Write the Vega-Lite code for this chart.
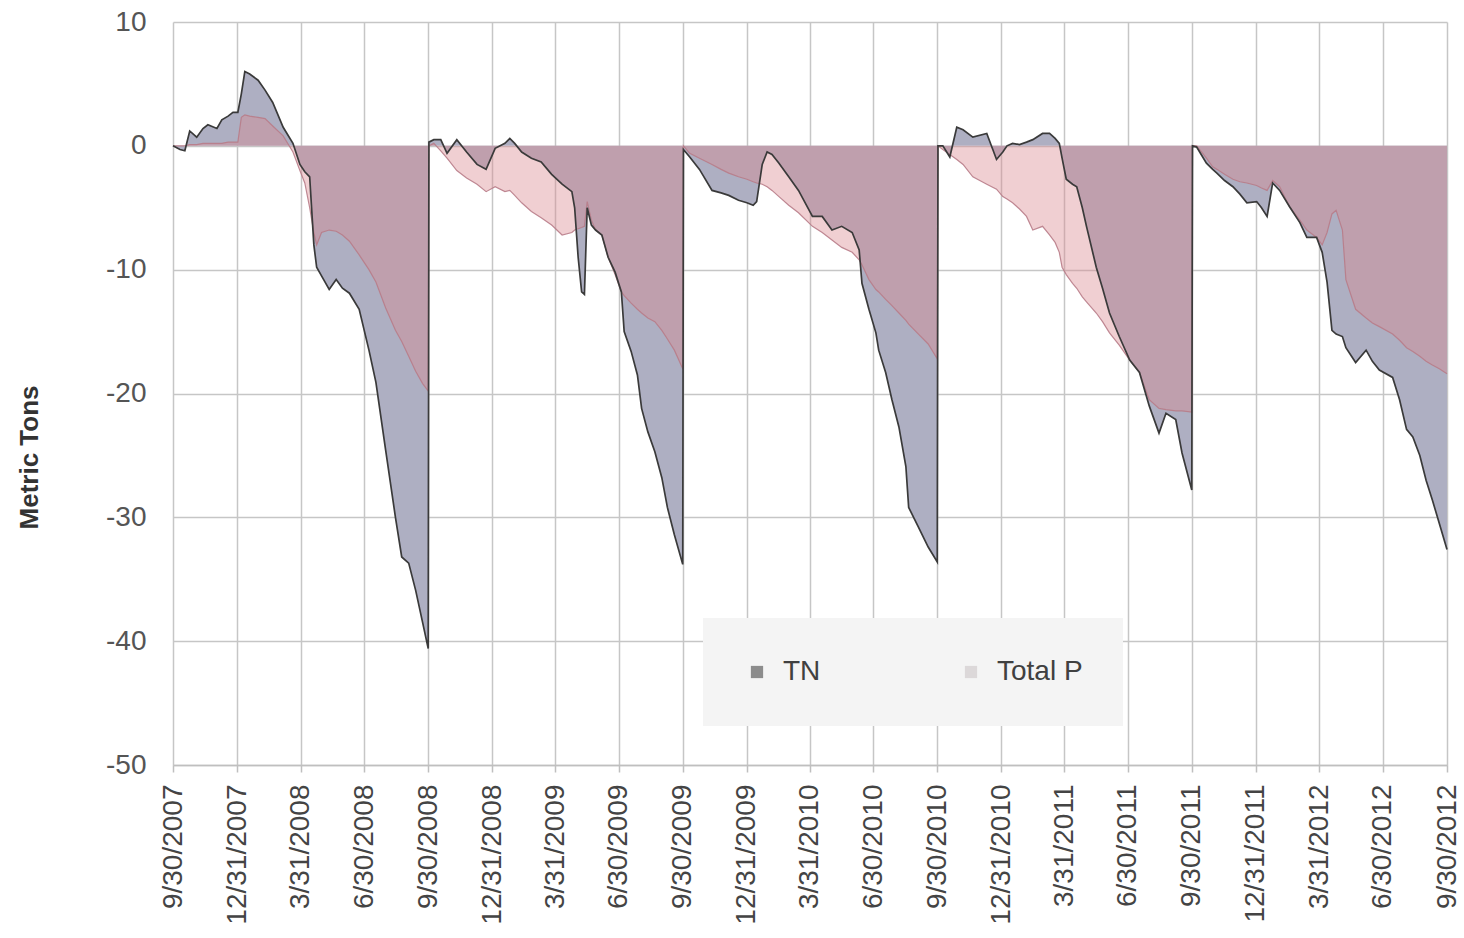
{
  "$schema": "https://vega.github.io/schema/vega-lite/v6.json",
  "width": 1274,
  "height": 743,
  "autosize": {"type": "none"},
  "padding": {"left": 173, "top": 22, "right": 17, "bottom": 173},
  "background": "white",
  "config": {"font": "Liberation Sans", "view": {"stroke": null}},
  "data": {
    "format": {"parse": {"date": "date:'%Y-%m-%d'"}},
    "values": [
      {"date": "2007-09-30", "TN": 0, "Total P": 0},
      {"date": "2007-10-10", "TN": -0.3, "Total P": 0},
      {"date": "2007-10-17", "TN": -0.4, "Total P": 0},
      {"date": "2007-10-24", "TN": 1.2, "Total P": 0.1},
      {"date": "2007-11-03", "TN": 0.7, "Total P": 0.1},
      {"date": "2007-11-12", "TN": 1.4, "Total P": 0.2},
      {"date": "2007-11-19", "TN": 1.7, "Total P": 0.2},
      {"date": "2007-12-02", "TN": 1.4, "Total P": 0.2},
      {"date": "2007-12-09", "TN": 2.1, "Total P": 0.2},
      {"date": "2007-12-18", "TN": 2.4, "Total P": 0.3},
      {"date": "2007-12-25", "TN": 2.7, "Total P": 0.3},
      {"date": "2008-01-01", "TN": 2.7, "Total P": 0.3},
      {"date": "2008-01-06", "TN": 4.2, "Total P": 2.3},
      {"date": "2008-01-11", "TN": 6.0, "Total P": 2.5},
      {"date": "2008-01-18", "TN": 5.8, "Total P": 2.4},
      {"date": "2008-01-30", "TN": 5.3, "Total P": 2.3},
      {"date": "2008-02-09", "TN": 4.5, "Total P": 2.2},
      {"date": "2008-02-20", "TN": 3.5, "Total P": 1.6},
      {"date": "2008-03-06", "TN": 1.5, "Total P": 0.8},
      {"date": "2008-03-20", "TN": 0.2, "Total P": -0.5},
      {"date": "2008-03-30", "TN": -1.5, "Total P": -2.0},
      {"date": "2008-04-06", "TN": -2.1, "Total P": -3.0},
      {"date": "2008-04-13", "TN": -2.5, "Total P": -5.0},
      {"date": "2008-04-19", "TN": -8.0, "Total P": -7.0},
      {"date": "2008-04-23", "TN": -9.8, "Total P": -8.0},
      {"date": "2008-04-30", "TN": -10.5, "Total P": -7.0},
      {"date": "2008-05-11", "TN": -11.6, "Total P": -6.8},
      {"date": "2008-05-21", "TN": -10.8, "Total P": -6.9},
      {"date": "2008-05-30", "TN": -11.5, "Total P": -7.2},
      {"date": "2008-06-09", "TN": -11.9, "Total P": -7.7},
      {"date": "2008-06-23", "TN": -13.2, "Total P": -8.8},
      {"date": "2008-07-07", "TN": -16.5, "Total P": -10.0},
      {"date": "2008-07-17", "TN": -19.1, "Total P": -11.0},
      {"date": "2008-07-31", "TN": -24.6, "Total P": -13.1},
      {"date": "2008-08-14", "TN": -30.0, "Total P": -14.9},
      {"date": "2008-08-23", "TN": -33.2, "Total P": -15.8},
      {"date": "2008-09-02", "TN": -33.7, "Total P": -17.0},
      {"date": "2008-09-12", "TN": -35.9, "Total P": -18.2},
      {"date": "2008-09-22", "TN": -38.5, "Total P": -19.2},
      {"date": "2008-09-30", "TN": -40.6, "Total P": -19.8},
      {"date": "2008-10-01", "TN": 0.3, "Total P": 0},
      {"date": "2008-10-08", "TN": 0.5, "Total P": 0.2},
      {"date": "2008-10-18", "TN": 0.5, "Total P": -0.4},
      {"date": "2008-10-27", "TN": -0.6, "Total P": -1.0},
      {"date": "2008-11-10", "TN": 0.5, "Total P": -2.0},
      {"date": "2008-11-24", "TN": -0.5, "Total P": -2.6},
      {"date": "2008-12-09", "TN": -1.5, "Total P": -3.1},
      {"date": "2008-12-22", "TN": -1.9, "Total P": -3.7},
      {"date": "2009-01-04", "TN": -0.2, "Total P": -3.3},
      {"date": "2009-01-18", "TN": 0.2, "Total P": -3.7},
      {"date": "2009-01-25", "TN": 0.6, "Total P": -3.6},
      {"date": "2009-02-01", "TN": 0.2, "Total P": -4.0},
      {"date": "2009-02-11", "TN": -0.5, "Total P": -4.6},
      {"date": "2009-02-25", "TN": -1.0, "Total P": -5.3},
      {"date": "2009-03-11", "TN": -1.3, "Total P": -5.8},
      {"date": "2009-03-26", "TN": -2.3, "Total P": -6.4},
      {"date": "2009-04-10", "TN": -3.1, "Total P": -7.2},
      {"date": "2009-04-24", "TN": -3.7, "Total P": -7.0},
      {"date": "2009-04-28", "TN": -5.0, "Total P": -6.8},
      {"date": "2009-05-03", "TN": -9.0, "Total P": -6.7},
      {"date": "2009-05-08", "TN": -11.8, "Total P": -6.6},
      {"date": "2009-05-12", "TN": -12.0, "Total P": -6.5},
      {"date": "2009-05-16", "TN": -5.0, "Total P": -4.5},
      {"date": "2009-05-22", "TN": -6.4, "Total P": -6.0},
      {"date": "2009-05-28", "TN": -6.8, "Total P": -6.8},
      {"date": "2009-06-06", "TN": -7.2, "Total P": -7.2},
      {"date": "2009-06-15", "TN": -9.0, "Total P": -9.0},
      {"date": "2009-06-25", "TN": -10.2, "Total P": -10.4},
      {"date": "2009-07-04", "TN": -11.8, "Total P": -11.8},
      {"date": "2009-07-08", "TN": -15.0, "Total P": -12.1},
      {"date": "2009-07-18", "TN": -16.6, "Total P": -12.7},
      {"date": "2009-07-27", "TN": -18.5, "Total P": -13.2},
      {"date": "2009-08-02", "TN": -21.2, "Total P": -13.5},
      {"date": "2009-08-11", "TN": -23.1, "Total P": -13.9},
      {"date": "2009-08-21", "TN": -24.7, "Total P": -14.2},
      {"date": "2009-08-31", "TN": -26.8, "Total P": -14.9},
      {"date": "2009-09-08", "TN": -29.2, "Total P": -15.6},
      {"date": "2009-09-18", "TN": -31.4, "Total P": -16.5},
      {"date": "2009-09-30", "TN": -33.8, "Total P": -18.0},
      {"date": "2009-10-01", "TN": -0.3, "Total P": 0},
      {"date": "2009-10-10", "TN": -0.9, "Total P": -0.6},
      {"date": "2009-10-24", "TN": -1.9, "Total P": -1.0},
      {"date": "2009-11-11", "TN": -3.6, "Total P": -1.5},
      {"date": "2009-11-24", "TN": -3.8, "Total P": -1.9},
      {"date": "2009-12-05", "TN": -4.0, "Total P": -2.2},
      {"date": "2009-12-19", "TN": -4.4, "Total P": -2.5},
      {"date": "2009-12-31", "TN": -4.6, "Total P": -2.7},
      {"date": "2010-01-09", "TN": -4.8, "Total P": -2.9},
      {"date": "2010-01-14", "TN": -4.5, "Total P": -3.0},
      {"date": "2010-01-22", "TN": -1.5, "Total P": -3.1},
      {"date": "2010-01-29", "TN": -0.5, "Total P": -3.3},
      {"date": "2010-02-05", "TN": -0.7, "Total P": -3.6},
      {"date": "2010-02-15", "TN": -1.4, "Total P": -4.1},
      {"date": "2010-03-01", "TN": -2.5, "Total P": -4.8},
      {"date": "2010-03-15", "TN": -3.6, "Total P": -5.4},
      {"date": "2010-04-04", "TN": -5.7, "Total P": -6.5},
      {"date": "2010-04-18", "TN": -5.7, "Total P": -7.0},
      {"date": "2010-05-02", "TN": -6.8, "Total P": -7.6},
      {"date": "2010-05-16", "TN": -6.5, "Total P": -8.2},
      {"date": "2010-05-31", "TN": -7.0, "Total P": -8.6},
      {"date": "2010-06-10", "TN": -8.4, "Total P": -9.2},
      {"date": "2010-06-14", "TN": -11.1, "Total P": -9.6},
      {"date": "2010-06-24", "TN": -13.2, "Total P": -10.8},
      {"date": "2010-07-04", "TN": -15.1, "Total P": -11.6},
      {"date": "2010-07-08", "TN": -16.5, "Total P": -11.8},
      {"date": "2010-07-18", "TN": -18.3, "Total P": -12.4},
      {"date": "2010-07-27", "TN": -20.5, "Total P": -12.9},
      {"date": "2010-08-06", "TN": -22.7, "Total P": -13.5},
      {"date": "2010-08-16", "TN": -25.9, "Total P": -14.1},
      {"date": "2010-08-20", "TN": -29.2, "Total P": -14.4},
      {"date": "2010-09-03", "TN": -30.8, "Total P": -15.2},
      {"date": "2010-09-17", "TN": -32.4, "Total P": -16.0},
      {"date": "2010-09-30", "TN": -33.6, "Total P": -17.2},
      {"date": "2010-10-01", "TN": 0, "Total P": 0},
      {"date": "2010-10-08", "TN": 0, "Total P": -0.3},
      {"date": "2010-10-18", "TN": -0.9, "Total P": -0.7},
      {"date": "2010-10-28", "TN": 1.5, "Total P": -1.1},
      {"date": "2010-11-06", "TN": 1.3, "Total P": -1.5},
      {"date": "2010-11-20", "TN": 0.7, "Total P": -2.5},
      {"date": "2010-12-10", "TN": 1.0, "Total P": -3.1},
      {"date": "2010-12-24", "TN": -1.1, "Total P": -3.5},
      {"date": "2011-01-02", "TN": -0.5, "Total P": -4.1},
      {"date": "2011-01-08", "TN": 0, "Total P": -4.3},
      {"date": "2011-01-16", "TN": 0.2, "Total P": -4.6},
      {"date": "2011-01-26", "TN": 0.1, "Total P": -5.1},
      {"date": "2011-02-05", "TN": 0.3, "Total P": -5.7},
      {"date": "2011-02-14", "TN": 0.5, "Total P": -6.8},
      {"date": "2011-02-28", "TN": 1.0, "Total P": -6.5},
      {"date": "2011-03-10", "TN": 1.0, "Total P": -7.2},
      {"date": "2011-03-18", "TN": 0.6, "Total P": -7.8},
      {"date": "2011-03-24", "TN": 0.2, "Total P": -8.6},
      {"date": "2011-03-28", "TN": -1.0, "Total P": -9.8},
      {"date": "2011-04-03", "TN": -2.7, "Total P": -10.4},
      {"date": "2011-04-12", "TN": -3.1, "Total P": -11.1},
      {"date": "2011-04-18", "TN": -3.3, "Total P": -11.5},
      {"date": "2011-04-26", "TN": -5.0, "Total P": -12.2},
      {"date": "2011-05-02", "TN": -6.5, "Total P": -12.6},
      {"date": "2011-05-16", "TN": -9.8, "Total P": -13.5},
      {"date": "2011-05-25", "TN": -11.5, "Total P": -14.2},
      {"date": "2011-06-04", "TN": -13.5, "Total P": -15.1},
      {"date": "2011-06-18", "TN": -15.4, "Total P": -16.1},
      {"date": "2011-07-03", "TN": -17.3, "Total P": -17.3},
      {"date": "2011-07-17", "TN": -18.3, "Total P": -18.3},
      {"date": "2011-07-31", "TN": -21.0, "Total P": -20.5},
      {"date": "2011-08-14", "TN": -23.2, "Total P": -21.2},
      {"date": "2011-08-24", "TN": -21.6, "Total P": -21.3},
      {"date": "2011-09-07", "TN": -22.1, "Total P": -21.4},
      {"date": "2011-09-16", "TN": -24.8, "Total P": -21.4},
      {"date": "2011-09-30", "TN": -27.8, "Total P": -21.5},
      {"date": "2011-10-01", "TN": 0, "Total P": 0},
      {"date": "2011-10-07", "TN": -0.1, "Total P": 0},
      {"date": "2011-10-21", "TN": -1.4, "Total P": -1.0},
      {"date": "2011-10-30", "TN": -1.9, "Total P": -1.7},
      {"date": "2011-11-05", "TN": -2.2, "Total P": -1.9},
      {"date": "2011-11-16", "TN": -2.8, "Total P": -2.3},
      {"date": "2011-11-28", "TN": -3.3, "Total P": -2.7},
      {"date": "2011-12-08", "TN": -3.9, "Total P": -2.9},
      {"date": "2011-12-18", "TN": -4.6, "Total P": -3.0},
      {"date": "2012-01-01", "TN": -4.5, "Total P": -3.2},
      {"date": "2012-01-08", "TN": -5.0, "Total P": -3.4},
      {"date": "2012-01-16", "TN": -5.7, "Total P": -3.6},
      {"date": "2012-01-24", "TN": -3.0, "Total P": -2.8},
      {"date": "2012-02-03", "TN": -3.6, "Total P": -3.3},
      {"date": "2012-02-17", "TN": -4.9, "Total P": -4.9},
      {"date": "2012-03-03", "TN": -6.2, "Total P": -6.0},
      {"date": "2012-03-13", "TN": -7.4, "Total P": -6.8},
      {"date": "2012-03-27", "TN": -7.4, "Total P": -7.4},
      {"date": "2012-04-04", "TN": -8.6, "Total P": -8.0},
      {"date": "2012-04-11", "TN": -11.0, "Total P": -7.0},
      {"date": "2012-04-18", "TN": -14.9, "Total P": -5.5},
      {"date": "2012-04-24", "TN": -15.2, "Total P": -5.2},
      {"date": "2012-05-03", "TN": -15.4, "Total P": -6.8},
      {"date": "2012-05-08", "TN": -16.3, "Total P": -10.8},
      {"date": "2012-05-22", "TN": -17.5, "Total P": -13.2},
      {"date": "2012-06-06", "TN": -16.5, "Total P": -13.9},
      {"date": "2012-06-15", "TN": -17.4, "Total P": -14.3},
      {"date": "2012-06-25", "TN": -18.1, "Total P": -14.6},
      {"date": "2012-07-14", "TN": -18.7, "Total P": -15.2},
      {"date": "2012-07-24", "TN": -20.5, "Total P": -15.7},
      {"date": "2012-08-03", "TN": -22.9, "Total P": -16.3},
      {"date": "2012-08-12", "TN": -23.5, "Total P": -16.6},
      {"date": "2012-08-22", "TN": -25.0, "Total P": -17.0},
      {"date": "2012-08-31", "TN": -27.0, "Total P": -17.4},
      {"date": "2012-09-09", "TN": -28.6, "Total P": -17.7},
      {"date": "2012-09-19", "TN": -30.5, "Total P": -18.0},
      {"date": "2012-09-30", "TN": -32.6, "Total P": -18.4}
    ]
  },
  "transform": [{"fold": ["TN", "Total P"], "as": ["series", "value"]}],
  "encoding": {
    "x": {
      "field": "date",
      "type": "temporal",
      "scale": {"domain": [{"year": 2007, "month": "September", "date": 30}, {"year": 2012, "month": "September", "date": 30}]},
      "axis": {
        "title": null,
        "values": [
          {"year": 2007, "month": "September", "date": 30},
          {"year": 2007, "month": "December", "date": 31},
          {"year": 2008, "month": "March", "date": 31},
          {"year": 2008, "month": "June", "date": 30},
          {"year": 2008, "month": "September", "date": 30},
          {"year": 2008, "month": "December", "date": 31},
          {"year": 2009, "month": "March", "date": 31},
          {"year": 2009, "month": "June", "date": 30},
          {"year": 2009, "month": "September", "date": 30},
          {"year": 2009, "month": "December", "date": 31},
          {"year": 2010, "month": "March", "date": 31},
          {"year": 2010, "month": "June", "date": 30},
          {"year": 2010, "month": "September", "date": 30},
          {"year": 2010, "month": "December", "date": 31},
          {"year": 2011, "month": "March", "date": 31},
          {"year": 2011, "month": "June", "date": 30},
          {"year": 2011, "month": "September", "date": 30},
          {"year": 2011, "month": "December", "date": 31},
          {"year": 2012, "month": "March", "date": 31},
          {"year": 2012, "month": "June", "date": 30},
          {"year": 2012, "month": "September", "date": 30}
        ],
        "format": "%-m/%-d/%Y",
        "labelAngle": -90,
        "labelFontSize": 28,
        "labelColor": "#444444",
        "labelPadding": 12,
        "labelFlush": false,
        "labelOverlap": false,
        "labelBound": false,
        "tickSize": 7,
        "tickColor": "#bfbfbf",
        "tickWidth": 1.5,
        "domainColor": "#bfbfbf",
        "domainWidth": 1.5,
        "gridColor": "#c6c6c6",
        "gridWidth": 1.5
      }
    },
    "y": {
      "field": "value",
      "type": "quantitative",
      "stack": null,
      "scale": {"domain": [-50, 10], "nice": false},
      "axis": {
        "values": [-50, -40, -30, -20, -10, 0, 10],
        "labelExpr": "datum.value < 0 ? '-' + abs(datum.value) : '' + datum.value",
        "labelFontSize": 28,
        "labelColor": "#555555",
        "labelPadding": 27,
        "ticks": false,
        "domain": false,
        "gridColor": "#c6c6c6",
        "gridWidth": 1.5,
        "title": "Metric Tons",
        "titleFontSize": 26,
        "titleFontWeight": "bold",
        "titleColor": "#333333",
        "titleAngle": -90,
        "titleAlign": "center",
        "titleBaseline": "bottom",
        "titleX": -131,
        "titleY": 435
      }
    }
  },
  "layer": [
    {
      "mark": {"type": "point", "filled": true, "size": 0, "opacity": 1},
      "encoding": {
        "color": {
          "field": "series",
          "type": "nominal",
          "scale": {"domain": ["TN", "Total P"], "range": ["#8c8c8c", "#dcd8d9"]},
          "legend": {
            "orient": "none",
            "legendX": 530,
            "legendY": 596,
            "direction": "horizontal",
            "title": null,
            "fillColor": "#f4f4f4",
            "padding": 40,
            "labelFontSize": 28,
            "labelColor": "#404040",
            "symbolType": "square",
            "symbolSize": 150,
            "symbolOpacity": 1,
            "columnPadding": 136,
            "labelOffset": 12,
            "symbolStrokeWidth": 0
          }
        }
      }
    },
    {
      "mark": {"type": "area", "interpolate": "linear"},
      "encoding": {
        "fill": {
          "field": "series",
          "type": "nominal",
          "scale": {"domain": ["TN", "Total P"], "range": ["#aeafc2", "#d9888f"]},
          "legend": null
        },
        "fillOpacity": {"condition": {"test": "datum.series === 'TN'", "value": 1}, "value": 0.4}
      }
    },
    {
      "transform": [{"filter": "datum.series === 'Total P'"}],
      "mark": {"type": "line", "interpolate": "linear", "color": "#b87c88", "strokeWidth": 1.2, "opacity": 0.9},
      "encoding": {}
    },
    {
      "transform": [{"filter": "datum.series === 'TN'"}],
      "mark": {"type": "line", "interpolate": "linear", "color": "#3a3a3a", "strokeWidth": 1.7},
      "encoding": {}
    }
  ]
}
